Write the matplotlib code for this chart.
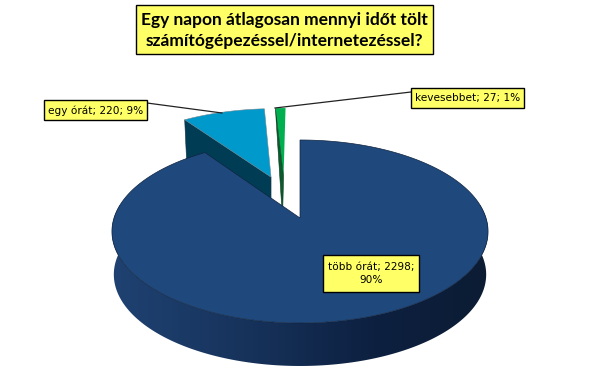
import numpy as np
import matplotlib
matplotlib.use("Agg")
import matplotlib.pyplot as plt
from matplotlib.patches import Polygon, Rectangle
from matplotlib.colors import LinearSegmentedColormap

categories = ["több órát", "egy órát", "kevesebbet"]
values = [2298, 220, 27]
percents = [90, 9, 1]
title_lines = ["Egy napon átlagosan mennyi időt tölt", "számítógépezéssel/internetezéssel?"]

top_colors = ["#1f497d", "#0099cc", "#00b050"]
wall_colors = [None, "#003d55", "#0a5a2c"]
explode_u = [0.0, -0.167, -0.095]
explode_v = [0.0, 0.49, 0.50]

CX, CY, A, B, K, DEPTH = 300.0, 218.0, 186.0, 89.5, 0.1475, 43.0
YELLOW = "#ffff66"


def project(u, v, drop=0.0, shrink=1.0):
    d = 1 + K * v
    return CX + A * shrink * u / d, CY - B * v / d + drop


fig = plt.figure(figsize=(6.06, 3.72), dpi=100)
ax = fig.add_axes([0, 0, 1, 1])

fractions = np.array(values, dtype=float) / sum(values)
ends = np.cumsum(fractions) * 2 * np.pi
starts = ends - fractions * 2 * np.pi


def face_points(i, drop=0.0, shrink=1.0):
    th = np.linspace(starts[i], ends[i], max(int(np.degrees(ends[i] - starts[i]) * 2), 4))
    us = explode_u[i] + np.sin(th)
    vs = explode_v[i] + np.cos(th)
    xs, ys = project(us, vs, drop, shrink)
    ax_, ay_ = project(explode_u[i], explode_v[i], drop, shrink)
    return np.r_[ax_, xs], np.r_[ay_, ys]


# blue slice: wall along its cut edge, then its top
x, y = face_points(1)
wall = [(x[1], y[1]), (x[0], y[0]), (x[0], y[0] + DEPTH), (x[1] + 2, y[1] + DEPTH)]
ax.add_patch(Polygon(wall, closed=True, fc=wall_colors[1], ec="#12323f", lw=0.4, zorder=1))
ax.add_patch(Polygon(np.c_[x, y], closed=True, fc=top_colors[1], ec="#6f8790", lw=0.4, zorder=2))

# green slice: top, then the dark cut edge over it
x, y = face_points(2)
ax.add_patch(Polygon(np.c_[x, y], closed=True, fc=top_colors[2], ec="none", zorder=2))
wall = [(x[1], y[1]), (x[0], y[0]), (x[0] - 1, y[0] + DEPTH)]
ax.add_patch(Polygon(wall, closed=True, fc=wall_colors[2], ec="#0a3a20", lw=0.4, zorder=3))

# big slice: shaded outer wall as one clipped gradient
shade = LinearSegmentedColormap.from_list(
    "wall", [(0, "#1f4272"), (0.35, "#17335c"), (0.7, "#0d2040"), (1, "#0b1c33")]
)
th = np.linspace(np.pi * 0.45, np.pi * 1.55, 240)
utop, vtop = np.sin(th), np.cos(th)
xt, yt = project(utop, vtop)
xb, yb = project(utop, vtop, DEPTH, 0.99)
outline = np.r_[np.c_[xt, yt], np.c_[xb, yb][::-1]]
ribbon = Polygon(outline, closed=True, fc="none", ec="none", transform=ax.transData)
ax.add_patch(ribbon)
im = ax.imshow(np.linspace(0, 1, 256)[None, :], extent=(112, 488, 372, 130), cmap=shade,
               aspect="auto", zorder=4, vmin=0, vmax=1)
im.set_clip_path(ribbon)

x, y = face_points(0)
ax.add_patch(Polygon(np.c_[x, y], closed=True, fc=top_colors[0], ec="#0f2340", lw=0.5, zorder=5))

# leader lines
ax.plot([147, 222], [103, 113], color="#222222", lw=0.9, zorder=6)
ax.plot([411, 275], [92, 108], color="#222222", lw=0.9, zorder=6)


def box(x0, x1, y0, y1, lw=1.0, zorder=7):
    ax.add_patch(Rectangle((x0, y0), x1 - x0, y1 - y0, fc=YELLOW, ec="black", lw=lw, zorder=zorder))


# data labels
lab = [f"{c}; {v}; {p}%" for c, v, p in zip(categories, values, percents)]
box(323, 419, 255, 292)
ax.text(371, 273.5, lab[0].replace("2298; ", "2298;\n"), ha="center", va="center",
        fontsize=7.6, family="DejaVu Sans", color="black", zorder=8, linespacing=1.45)
box(44, 147, 100, 120)
ax.text(95.5, 110.5, lab[1], ha="center", va="center", fontsize=7.6,
        family="DejaVu Sans", color="black", zorder=8)
box(411, 524, 88, 108)
ax.text(467.5, 98.5, lab[2], ha="center", va="center", fontsize=7.6,
        family="DejaVu Sans", color="black", zorder=8)

# title
box(136, 433, 5, 54)
ax.text(284.5, 20, title_lines[0], ha="center", va="center", fontsize=12.5,
        family="Lato", fontweight="bold", color="black", zorder=8)
ax.text(284.5, 41, title_lines[1], ha="center", va="center", fontsize=12.5,
        family="Lato", fontweight="bold", color="black", zorder=8)

ax.set_xlim(0, 606)
ax.set_ylim(372, 0)
ax.axis("off")
fig.savefig("out.png", dpi=100, facecolor="white")
